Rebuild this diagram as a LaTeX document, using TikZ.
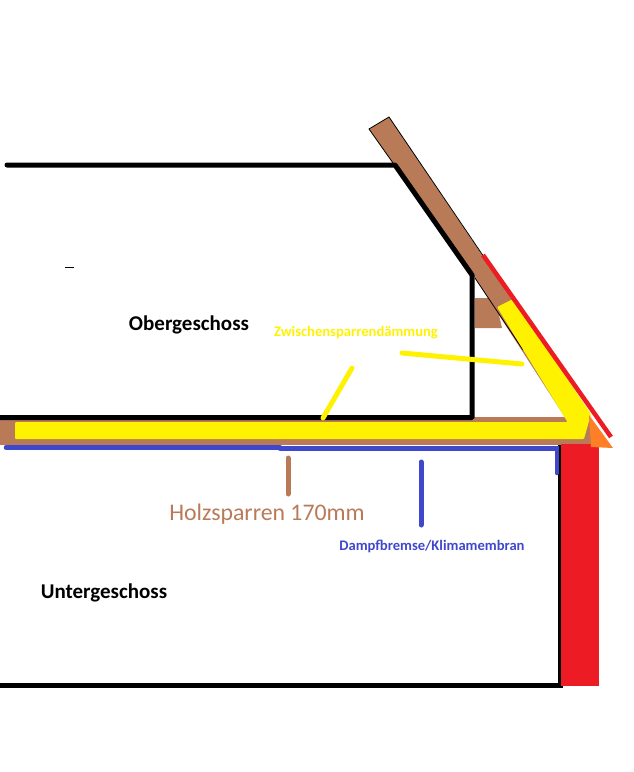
\documentclass[tikz,border=0pt]{standalone}
\usepackage{fontspec}
\setmainfont{Carlito}
\definecolor{holz}{RGB}{185,122,87}
\definecolor{daemm}{RGB}{255,242,0}
\definecolor{dampf}{RGB}{63,72,204}
\definecolor{wand}{RGB}{237,28,36}
\definecolor{blech}{RGB}{255,127,39}
\tikzset{%
    wall/.style={%
        draw=black, line width=5pt, line cap=round, line join=round
    },
    leader/.style={%
        line width=5pt, line cap=round
    },
    label_room/.style={%
        font=\fontsize{21}{23}\selectfont\bfseries, text=black, inner sep=0pt
    },
    label_small/.style={%
        font=\fontsize{14.6}{16}\selectfont\bfseries, inner sep=0pt
    },
}
\begin{document}
\begin{tikzpicture}[x=1pt,y=-1pt]
    \useasboundingbox (0,0) rectangle (634,772);

    % timber
    \fill[holz] (0,420) rectangle (591,445);
    \fill[holz] (474,417) rectangle (570,422);
    \fill[holz] (475,298) -- (495,298) -- (502,328) -- (475,328) -- cycle;
    \fill[holz] (369,129) -- (389,117) -- (590,415) -- (591,445) -- (568,445) -- (568,422) -- (475,278) -- (393,163) -- cycle;
    \draw[black, line width=0.8pt] (393,163) -- (369,129) -- (389,117) -- (486,260);
    \draw[black, line width=0.8pt] (475,278) -- (523,350);

    % walls
    \draw[wall] (7,165) -- (395,165) -- (472,275) -- (472,417.5) -- (0,417.5);
    \draw[wall, line cap=butt, line join=miter] (560,445) -- (560,685) -- (0,685);
    \draw[black, line width=1pt] (65,267) -- (74,267);

    % insulation
    \fill[daemm, rounded corners=1pt] (497,307) -- (513,299) -- (591,414) -- (584,439) -- (15,439) -- (15,422) -- (567.5,422) -- cycle;

    % outer wall and eaves
    \fill[wand] (561,444) rectangle (599,686);
    \fill[blech] (589,415) -- (613,448) -- (591,447) -- cycle;
    \draw[wand, line width=4.5pt] (483,255) -- (611,437);

    % vapour barrier
    \draw[dampf, line width=4.5pt, line cap=round] (6,447.5) -- (280,447.5);
    \draw[dampf, line width=4.5pt, line cap=round] (280,448.5) -- (557,448.5) -- (557,473);

    % leaders
    \node[label_small, text=daemm] (daemmung) at (356,333) {Zwischensparrendämmung};
    \coordinate (daemm_a) at (352,368);
    \coordinate (daemm_b) at (323,418);
    \coordinate (daemm_c) at (402,353);
    \coordinate (daemm_d) at (522,364);
    \draw[leader, daemm] (daemm_a) -- (daemm_b);
    \draw[leader, daemm] (daemm_c) -- (daemm_d);

    \node[font=\fontsize{23.8}{26}\selectfont, text=holz, inner sep=0pt] (holzsparren) at (267,514) {Holzsparren 170mm};
    \coordinate (holz_a) at (288,458);
    \coordinate (holz_b) at (288,494);
    \draw[leader, holz] (holz_a) -- (holz_b);

    \node[label_small, text=dampf] (dampfbremse) at (432,546) {Dampfbremse/Klimamembran};
    \coordinate (dampf_a) at (421,462);
    \coordinate (dampf_b) at (421,525);
    \draw[leader, dampf] (dampf_a) -- (dampf_b);

    % rooms
    \node[label_room] (obergeschoss) at (189,325) {Obergeschoss};
    \node[label_room] (untergeschoss) at (104,593) {Untergeschoss};
\end{tikzpicture}
\end{document}
